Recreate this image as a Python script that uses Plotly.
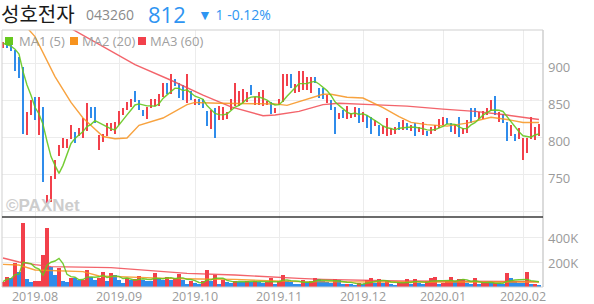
import pandas as pd
import plotly.graph_objects as go

# ---------------- data ----------------
holidays = ["2019-08-15", "2019-09-12", "2019-09-13", "2019-10-03", "2019-10-09",
            "2019-12-25", "2019-12-31", "2020-01-01", "2020-01-24", "2020-01-27"]
dates = [d for d in pd.bdate_range("2019-07-22", "2020-02-07")
         if d.strftime("%Y-%m-%d") not in holidays]

opens = [923, 928, 925, 914, 908, 894, 811, 833, 849, 827, 840, 716, 718, 745, 778, 788, 790, 800, 806, 804,
         806, 818, 832, 829, 791, 797, 804, 811, 806, 820, 833, 840, 844, 858, 849, 836, 827, 843, 845, 845,
         858, 869, 866, 878, 872, 860, 849, 860, 847, 850, 851, 831, 815, 838, 826, 829, 829, 840, 845, 845,
         849, 851, 869, 847, 846, 845, 846, 847, 836, 846, 851, 873, 885, 863, 864, 867, 867, 863, 881, 865,
         865, 849, 849, 840, 828, 836, 827, 829, 831, 829, 825, 829, 827, 818, 816, 807, 804, 806, 807, 820,
         813, 818, 811, 815, 810, 806, 808, 807, 812, 816, 819, 825, 818, 807, 818, 807, 809, 839, 839, 827,
         828, 833, 839, 849, 827, 831, 820, 804, 804, 800, 782, 782, 801, 798, 805]
highs = [930, 931, 928, 919, 909, 896, 835, 851, 856, 856, 842, 723, 748, 770, 790, 800, 799, 818, 808, 813,
         827, 847, 842, 842, 804, 806, 820, 820, 822, 836, 840, 849, 853, 864, 851, 838, 842, 853, 853, 859,
         874, 874, 887, 880, 874, 872, 887, 863, 853, 852, 853, 836, 838, 840, 843, 842, 835, 853, 874, 863,
         866, 862, 872, 855, 862, 865, 850, 849, 840, 852, 887, 887, 887, 873, 890, 890, 883, 883, 883, 867,
         867, 858, 851, 842, 834, 838, 843, 834, 842, 840, 835, 831, 829, 824, 818, 816, 827, 813, 815, 822,
         824, 820, 818, 820, 815, 822, 810, 815, 817, 825, 829, 827, 820, 818, 829, 813, 824, 841, 840, 835,
         837, 841, 851, 857, 835, 833, 822, 818, 806, 813, 800, 800, 828, 815, 819]
lows = [921, 922, 917, 890, 881, 806, 804, 831, 824, 804, 740, 710, 714, 744, 776, 786, 786, 799, 793, 802,
        800, 809, 827, 820, 784, 795, 803, 809, 805, 818, 831, 838, 842, 849, 838, 830, 825, 841, 843, 843,
        856, 860, 860, 870, 854, 851, 847, 851, 845, 844, 840, 816, 812, 800, 824, 824, 826, 838, 843, 843,
        847, 849, 858, 845, 844, 843, 844, 833, 834, 844, 849, 870, 867, 861, 862, 865, 865, 861, 874, 854,
        852, 847, 838, 806, 826, 827, 825, 827, 829, 820, 822, 813, 806, 816, 802, 805, 802, 804, 805, 811,
        811, 811, 809, 803, 808, 804, 803, 805, 810, 814, 817, 819, 808, 805, 801, 805, 807, 820, 829, 825,
        826, 831, 837, 831, 822, 820, 796, 802, 796, 798, 770, 780, 799, 797, 803]
closes = [928, 925, 919, 908, 887, 811, 833, 849, 827, 842, 741, 719, 745, 768, 788, 795, 797, 815, 802, 811,
          818, 831, 830, 827, 797, 804, 815, 818, 820, 833, 838, 847, 851, 854, 840, 832, 840, 851, 851, 857,
          868, 864, 874, 873, 856, 853, 869, 853, 851, 846, 842, 827, 827, 824, 838, 840, 833, 849, 849, 849,
          859, 859, 860, 851, 848, 849, 848, 840, 838, 850, 874, 880, 869, 871, 873, 874, 881, 878, 876, 856,
          854, 856, 845, 833, 832, 829, 836, 832, 840, 822, 833, 825, 816, 822, 804, 814, 813, 811, 813, 815,
          818, 813, 815, 811, 813, 811, 805, 813, 815, 823, 823, 821, 809, 816, 806, 811, 822, 833, 831, 833,
          835, 839, 849, 833, 831, 827, 804, 809, 798, 804, 800, 800, 803, 813, 812]
volumes_k = [43, 83, 75, 195, 117, 515, 64, 43, 48, 49, 256, 475, 163, 96, 155, 48, 43, 75, 69, 56,
             58, 136, 83, 56, 75, 117, 48, 109, 96, 56, 29, 69, 56, 61, 88, 56, 48, 46, 109, 69,
             56, 83, 56, 69, 101, 56, 24, 48, 29, 24, 48, 136, 48, 96, 21, 56, 43, 29, 48, 43,
             40, 48, 43, 48, 43, 29, 43, 69, 21, 48, 96, 48, 43, 24, 21, 56, 43, 46, 69, 65,
             50, 43, 29, 61, 58, 21, 24, 23, 20, 29, 24, 56, 75, 35, 61, 35, 48, 21, 19, 35,
             43, 61, 24, 61, 29, 24, 48, 75, 83, 21, 29, 50, 83, 48, 61, 64, 29, 21, 75, 21,
             29, 35, 29, 35, 29, 24, 109, 72, 48, 35, 30, 117, 24, 26, 12]

# moving-average lines (day index, value)
ma2_idx = [5, 8, 13, 17, 20, 25, 28, 31, 34, 40, 46, 48, 54, 68, 71, 74, 80, 82, 86, 90,
           95, 99, 102, 106, 111, 116, 122, 126, 130, 134]
ma2_val = [955, 937, 883, 848, 827, 802, 799, 800, 817, 827, 845, 848, 847, 846, 844, 849, 859, 859, 855, 854,
           841, 829, 821, 818, 816, 820, 828, 825, 821, 821]
ma3_idx = [16, 31, 33, 42, 50, 57, 65, 68, 74, 80, 84, 92, 101, 110, 118, 126, 134]
ma3_val = [951, 905, 899, 878, 858, 842, 830, 831, 836, 845, 847, 845, 843, 839, 836, 831, 825]
vma2_idx = [0, 4, 8, 16, 20, 24, 28, 33, 41, 49, 58, 66, 74, 100, 134]
vma2_k = [181, 176, 136, 128, 123, 88, 83, 75, 69, 64, 61, 51, 43, 40, 40]
vma3_idx = [0, 4, 8, 12, 27, 39, 46, 58, 66, 74, 80, 99, 134]
vma3_k = [232, 200, 179, 163, 155, 128, 109, 96, 80, 69, 61, 48, 43]

month_labels = ["2019.08", "2019.09", "2019.10", "2019.11", "2019.12", "2020.01", "2020.02"]
price_ticks = [700, 750, 800, 850, 900]
volume_ticks = [200000, 400000]

# ---------------- derived ----------------
n = len(dates)
idx = list(range(n))
volumes = [v * 1000 for v in volumes_k]
ma1 = pd.Series(closes).rolling(5, min_periods=1).mean().tolist()
vma1 = pd.Series(volumes).rolling(5, min_periods=1).mean().tolist()
month_pos = []
seen = set()
for i, d in enumerate(dates):
    key = d.strftime("%Y.%m")
    if key not in seen:
        seen.add(key)
        if key in month_labels:
            month_pos.append(i)

RED = "#f2404b"
BLUE = "#2f8ceb"
GREEN = "#66c81e"
ORANGE = "#f7931e"
MRED = "#f24a52"

cndl_col = [RED if c >= o else BLUE for o, c in zip(opens, closes)]
body_base = [min(o, c) for o, c in zip(opens, closes)]
body_h = [max(abs(c - o), 0.9) for o, c in zip(opens, closes)]
wick_h = [h - l for h, l in zip(highs, lows)]
vol_col = [RED] + [RED if volumes[i] > volumes[i - 1] else BLUE for i in range(1, n)]

fig = go.Figure()
fig.add_trace(go.Bar(x=idx, y=wick_h, base=lows, width=0.25, marker=dict(color=cndl_col, line=dict(width=0)),
                     xaxis="x", yaxis="y"))
fig.add_trace(go.Bar(x=idx, y=body_h, base=body_base, width=0.72, marker=dict(color=cndl_col, line=dict(width=0)),
                     xaxis="x", yaxis="y"))
fig.add_trace(go.Scatter(x=ma3_idx, y=ma3_val, mode="lines", line=dict(color=MRED, width=1.4), opacity=0.85,
                         xaxis="x", yaxis="y"))
fig.add_trace(go.Scatter(x=ma2_idx, y=ma2_val, mode="lines", line=dict(color=ORANGE, width=1.4), opacity=0.85,
                         xaxis="x", yaxis="y"))
fig.add_trace(go.Scatter(x=idx, y=ma1, mode="lines", line=dict(color=GREEN, width=1.4), opacity=0.9,
                         xaxis="x", yaxis="y"))

fig.add_trace(go.Bar(x=idx, y=volumes, width=0.78, marker=dict(color=vol_col, line=dict(width=0)),
                     xaxis="x2", yaxis="y2"))
fig.add_trace(go.Scatter(x=vma3_idx, y=[v * 1000 for v in vma3_k], mode="lines",
                         line=dict(color=MRED, width=1.4), opacity=0.85, xaxis="x2", yaxis="y2"))
fig.add_trace(go.Scatter(x=vma2_idx, y=[v * 1000 for v in vma2_k], mode="lines",
                         line=dict(color=ORANGE, width=1.4), opacity=0.85, xaxis="x2", yaxis="y2"))
fig.add_trace(go.Scatter(x=idx, y=vma1, mode="lines", line=dict(color=GREEN, width=1.4), opacity=0.9,
                         xaxis="x2", yaxis="y2"))

W, H = 594, 304
L, R, T, B = 2, 543, 30, 287
VTOP = 217


def px(x):
    return (x - L) / (R - L)


def py(y):
    return (B - y) / (B - T)


split = py(VTOP)
xr = [-0.25, 135]
gridc = "#ececec"
tickfont = dict(family="Open Sans", size=13, color="#9a9a9a")
xtickfont = dict(family="Open Sans", size=12.5, color="#9a9a9a")

fig.update_layout(
    width=W, height=H, margin=dict(l=L, r=W - R, t=T, b=H - B, autoexpand=False),
    paper_bgcolor="white", plot_bgcolor="white", showlegend=False, barmode="overlay",
    bargap=0,
    xaxis=dict(domain=[0, 1], anchor="y", range=xr, tickvals=month_pos, ticktext=[""] * len(month_pos),
               showgrid=True, gridcolor=gridc, gridwidth=1, zeroline=False, showticklabels=False,
               fixedrange=True, automargin=False),
    yaxis=dict(domain=[split, 1], anchor="x", range=[693.2, 945.9], side="right", tickvals=price_ticks,
               ticktext=["", "750", "800", "850", "900"], showgrid=True, gridcolor=gridc, gridwidth=1,
               zeroline=False, tickfont=tickfont, ticks="", ticklabelshift=3, ticklabelstandoff=4,
               automargin=False),
    xaxis2=dict(domain=[0, 1], anchor="y2", range=xr, tickvals=month_pos, ticktext=month_labels,
                showgrid=True, gridcolor=gridc, gridwidth=1, zeroline=False, tickfont=xtickfont, ticks="",
                ticklabelstandoff=0, automargin=False),
    yaxis2=dict(domain=[0, split], anchor="x2", range=[0, 560000], side="right", tickvals=volume_ticks,
                ticktext=["200K", "400K"], showgrid=True, gridcolor=gridc, gridwidth=1, zeroline=False,
                tickfont=tickfont, ticks="", ticklabelshift=1, ticklabelstandoff=4, automargin=False),
)

shapes = [
    dict(type="line", xref="paper", yref="paper", x0=0, x1=1, y0=1, y1=1, line=dict(color="#cfcfcf", width=1)),
    dict(type="line", xref="paper", yref="paper", x0=0, x1=1, y0=0, y1=0, line=dict(color="#cfcfcf", width=1)),
    dict(type="line", xref="paper", yref="paper", x0=0, x1=0, y0=0, y1=1, line=dict(color="#cfcfcf", width=1)),
    dict(type="line", xref="paper", yref="paper", x0=1, x1=1, y0=0, y1=1, line=dict(color="#cfcfcf", width=1.5)),
    dict(type="line", xref="paper", yref="paper", x0=0, x1=1, y0=split, y1=split,
         line=dict(color="#3a3a3a", width=1.5)),
]
for x0, col in [(5, GREEN), (70, ORANGE), (138, RED)]:
    shapes.append(dict(type="rect", xref="paper", yref="paper", x0=px(x0), x1=px(x0 + 8), y0=py(45), y1=py(37),
                       fillcolor=col, line=dict(width=0)))
fig.update_layout(shapes=shapes)

ann = []
for x0, txt in [(17, "MA1 (5)"), (80, "MA2 (20)"), (148, "MA3 (60)")]:
    ann.append(dict(xref="paper", yref="paper", x=px(x0), y=py(41), text=txt, showarrow=False,
                    xanchor="left", yanchor="middle", font=dict(family="Open Sans", size=13, color="#a0a0a0")))
ann.append(dict(xref="paper", yref="paper", x=px(4), y=py(205), text="<b>©PAXNet</b>", showarrow=False,
                xanchor="left", yanchor="middle", font=dict(family="Liberation Sans", size=17, color="#cdcdcd")))
ann.append(dict(xref="paper", yref="paper", x=px(-1), y=py(13), text="성호전자", showarrow=False,
                xanchor="left", yanchor="middle", font=dict(family="Noto Sans CJK KR", size=20, color="#1a1a1a")))
ann.append(dict(xref="paper", yref="paper", x=px(84), y=py(14), text="043260", showarrow=False,
                xanchor="left", yanchor="middle", font=dict(family="Open Sans", size=14, color="#8a8a8a")))
ann.append(dict(xref="paper", yref="paper", x=px(146), y=py(14), text="812", showarrow=False,
                xanchor="left", yanchor="middle", font=dict(family="Open Sans", size=22, color="#2f95f2")))
ann.append(dict(xref="paper", yref="paper", x=px(196), y=py(14), text="▼ 1 -0.12%", showarrow=False,
                xanchor="left", yanchor="middle", font=dict(family="Open Sans", size=14, color="#2f95f2")))
fig.update_layout(annotations=ann)

fig.write_html("out.html")
